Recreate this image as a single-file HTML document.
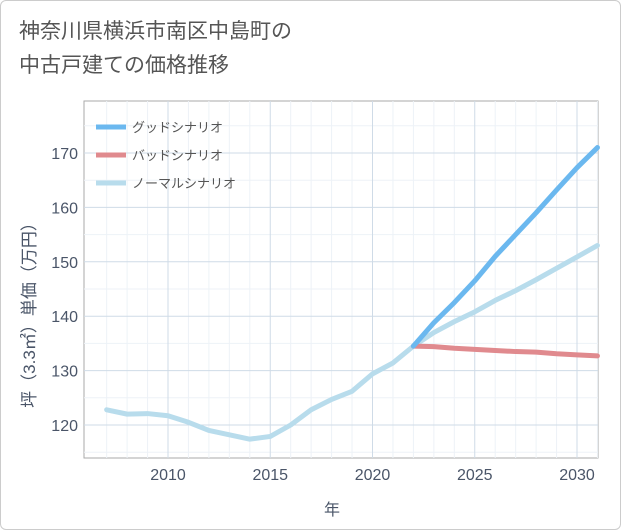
<!DOCTYPE html>
<html><head><meta charset="utf-8"><style>
body{margin:0;background:#fff;font-family:"Liberation Sans","Noto Sans CJK JP",sans-serif;}
#wrap{position:relative;width:621px;height:530px;box-sizing:border-box;border:1px solid #ccc;border-radius:6px;}
#title{position:absolute;left:18px;top:14px;font-size:21px;line-height:34px;color:#555;}
</style></head><body>
<div id="wrap">
<div id="title">神奈川県横浜市南区中島町の<br>中古戸建ての価格推移</div>
<svg id="chart" width="621" height="530" style="position:absolute;left:0;top:0"></svg>
</div>
<script>
const years=[2007,2008,2009,2010,2011,2012,2013,2014,2015,2016,2017,2018,2019,2020,2021,2022,2023,2024,2025,2026,2027,2028,2029,2030,2031];
const normal=[122.8,122,122.1,121.7,120.5,119,118.2,117.4,117.9,120,122.8,124.7,126.2,129.4,131.4,134.5,137,139,140.8,142.9,144.7,146.7,148.8,150.9,153];
const futYears=[2022,2023,2024,2025,2026,2027,2028,2029,2030,2031];
const good=[134.5,138.8,142.5,146.5,151,155,159,163.2,167.3,171];
const bad=[134.5,134.4,134.1,133.9,133.7,133.5,133.4,133.1,132.9,132.7];
const xTicks=[2010,2015,2020,2025,2030];
const yTicks=[120,130,140,150,160,170];
const L=83,R=597,T=100,B=457;
const x=v=>167+(v-2010)*20.45;
const y=v=>424-(v-120)*5.44;
const svg=document.getElementById('chart');
const NS='http://www.w3.org/2000/svg';
function mk(t,a,p){const e=document.createElementNS(NS,t);for(const k in a)e.setAttribute(k,a[k]);(p||svg).appendChild(e);return e;}
let e;
e=mk('rect',{x:L,y:T,width:R-L,height:B-T,fill:'#fff',stroke:'#aaa','stroke-width':1});


for(let yr=2007;yr<=2031;yr++){if(yr%5===0)continue;mk('line',{x1:x(yr),x2:x(yr),y1:T,y2:B,stroke:'#edf2f7','stroke-width':1});}
for(let v=115;v<=175;v+=5){if(v%10===0)continue;const yy=y(v);if(yy<T||yy>B)continue;mk('line',{x1:L,x2:R,y1:yy,y2:yy,stroke:'#edf2f7'});}
xTicks.forEach(t=>{mk('line',{x1:x(t),x2:x(t),y1:T,y2:B,stroke:'#cfdbe7'});
e=mk('text',{x:x(t),y:B+22,'text-anchor':'middle','font-size':16,fill:'#4a5568'});e.textContent=t;

});
yTicks.forEach(t=>{mk('line',{x1:L,x2:R,y1:y(t),y2:y(t),stroke:'#cfdbe7'});
e=mk('text',{x:L-6,y:y(t)+6,'text-anchor':'end','font-size':16,fill:'#4a5568'});e.textContent=t;

});
function line(xs,ys,c,n){const p=mk('polyline',{points:xs.map((v,i)=>x(v)+','+y(ys[i])).join(' '),fill:'none',stroke:c,'stroke-width':5,'stroke-linejoin':'round','stroke-linecap':'round'});

}
line(years,normal,'#b8dcec','normal-line');
line(futYears,bad,'#e08a8e','bad-line');
line(futYears,good,'#6bb8ef','good-line');
const leg=[['グッドシナリオ','#6bb8ef'],['バッドシナリオ','#e08a8e'],['ノーマルシナリオ','#b8dcec']];
leg.forEach((l,i)=>{const yy=126+i*28;
e=mk('line',{x1:95,x2:125,y1:yy,y2:yy,stroke:l[1],'stroke-width':5});


e=mk('text',{x:131,y:yy+5,'font-size':13,fill:'#555'});e.textContent=l[0];

});
e=mk('text',{x:331,y:514,'text-anchor':'middle','font-size':16,fill:'#4a5568'});e.textContent='年';


e=mk('text',{x:0,y:0,'text-anchor':'middle','font-size':17,fill:'#4a5568',transform:'translate(34,310) rotate(-90)'});e.textContent='坪（3.3㎡）単価（万円）';


</script>
</body></html>
